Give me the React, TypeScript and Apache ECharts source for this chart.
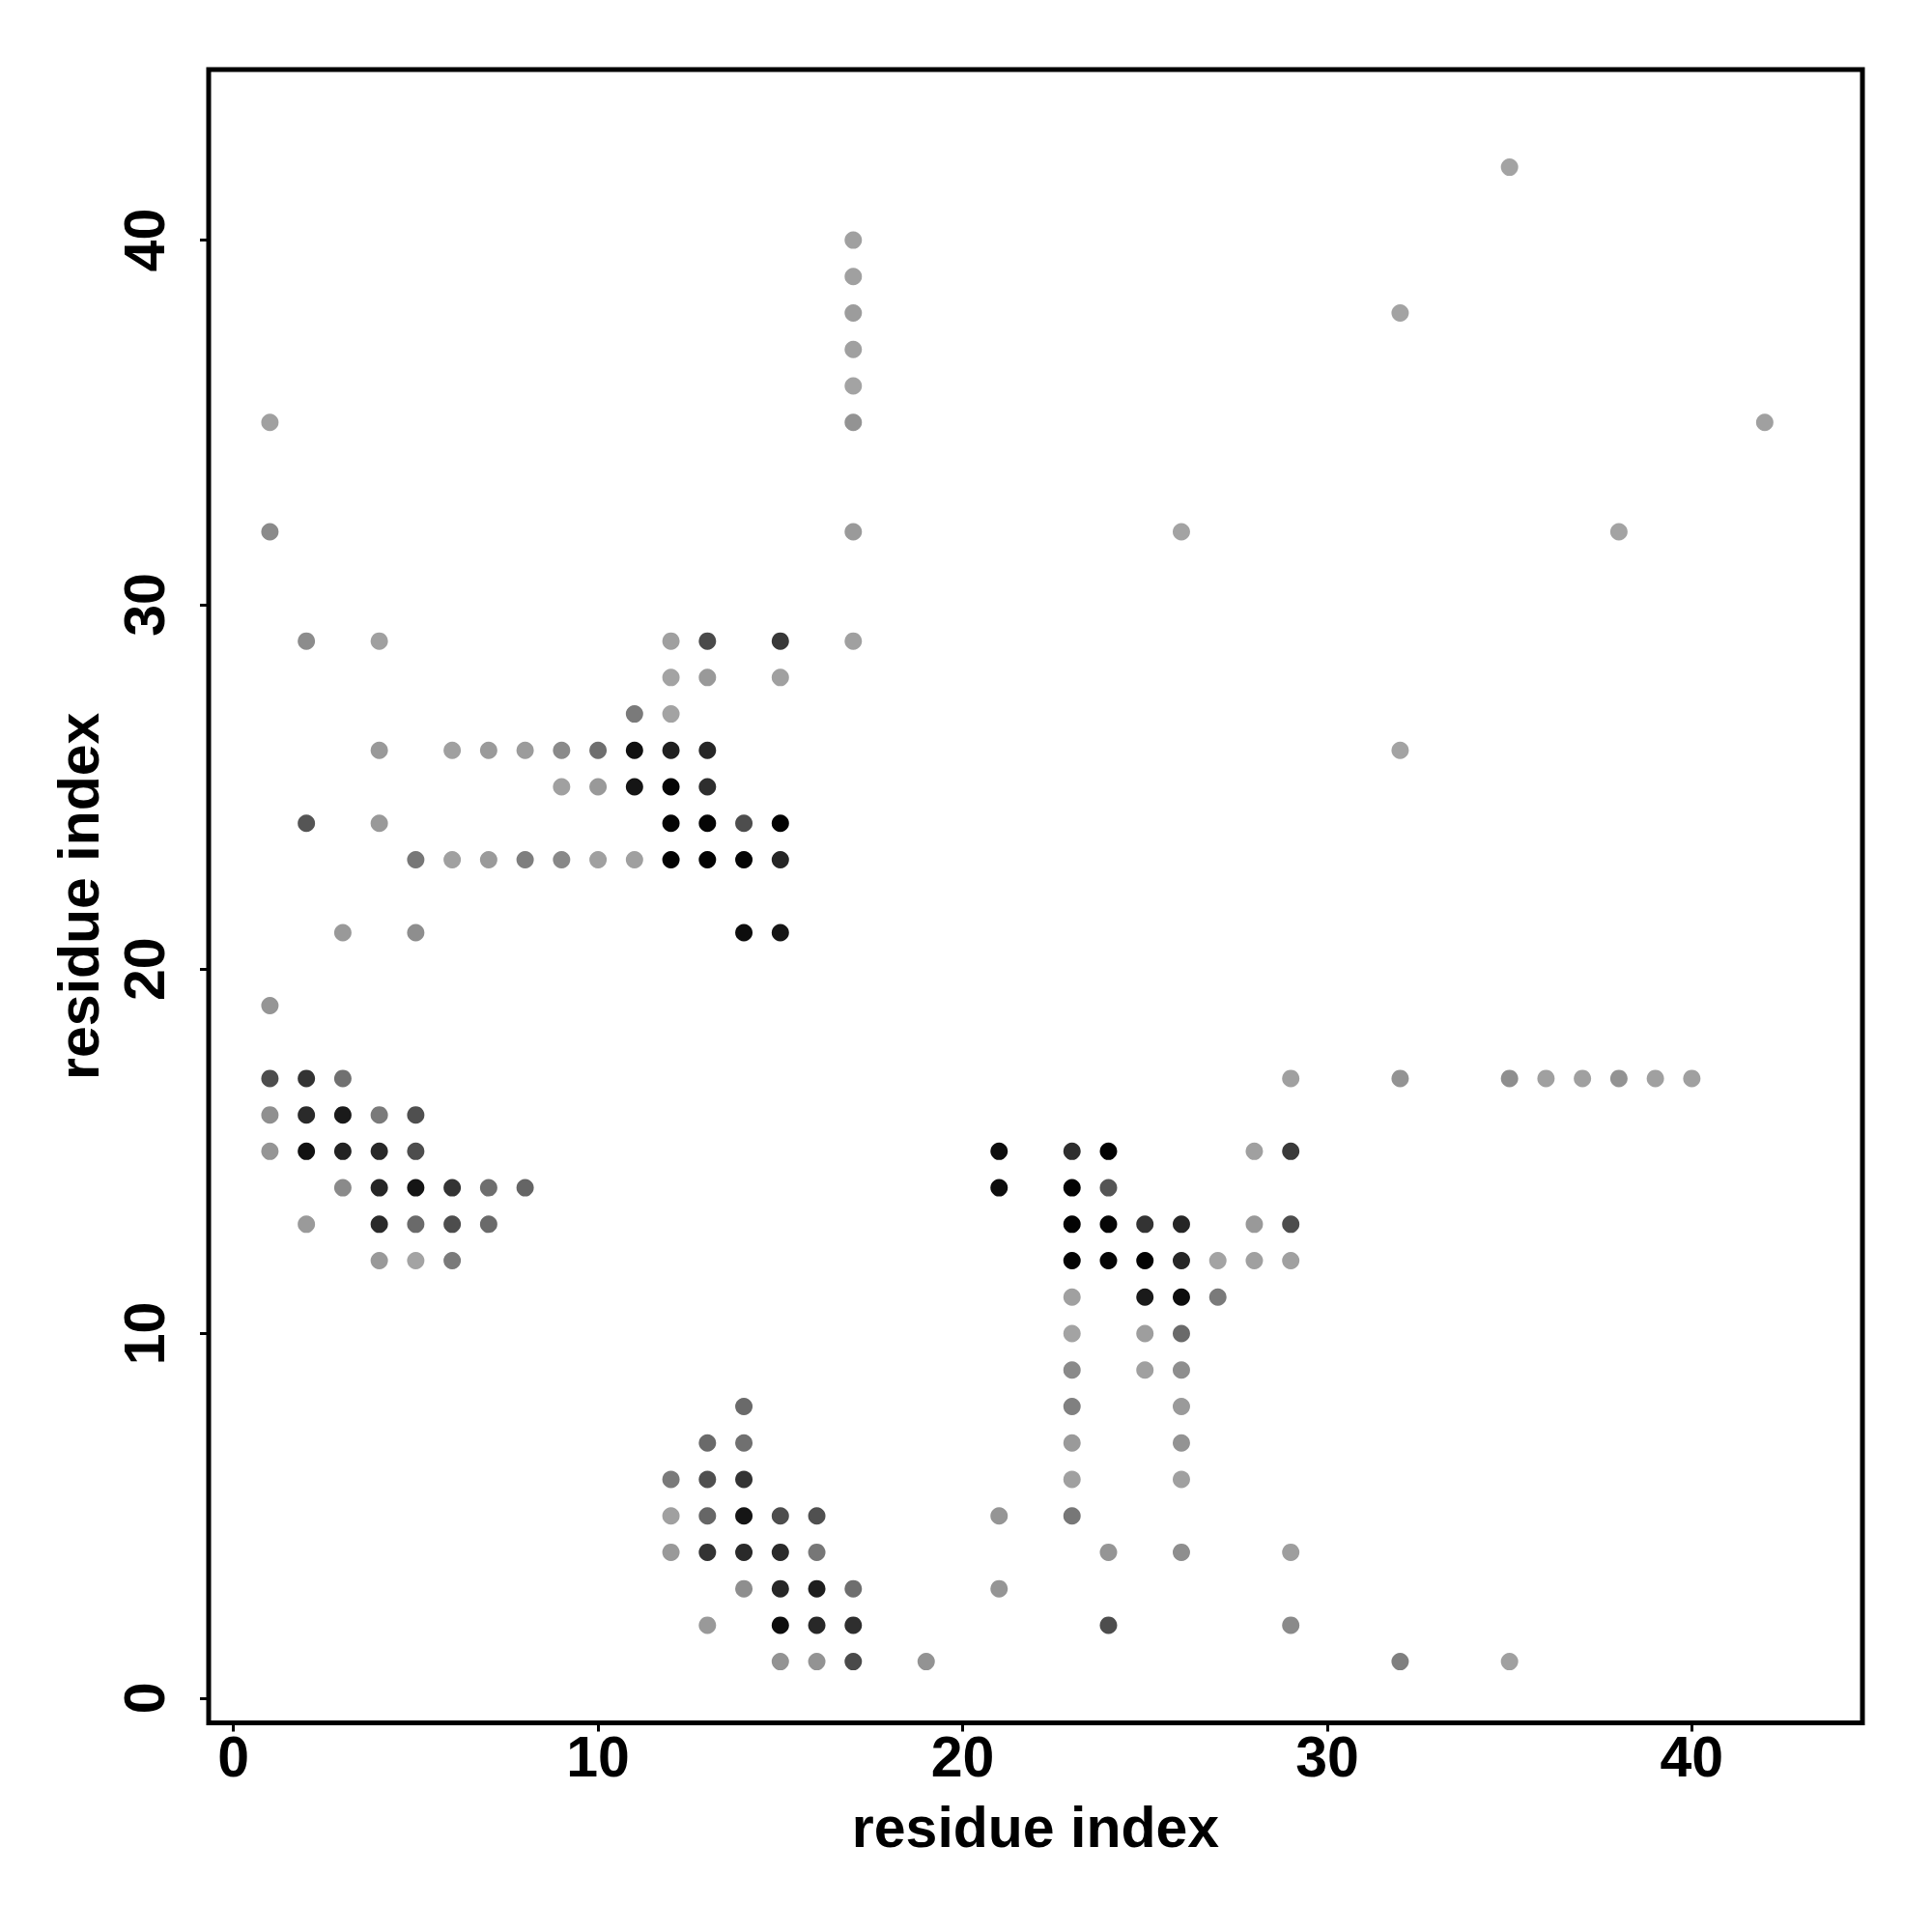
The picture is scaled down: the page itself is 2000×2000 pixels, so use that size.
import React, { useEffect, useRef } from "react";
import * as echarts from "echarts";

// residue index on the horizontal axis (one line per row of contacts, top row first)
const resI = [
  35,
  17,
  17,
  17, 32,
  17,
  17,
  1, 17, 42,
  1, 17, 26, 38,
  2, 4, 12, 13, 15, 17,
  12, 13, 15,
  11, 12,
  4, 6, 7, 8, 9, 10, 11, 12, 13, 32,
  9, 10, 11, 12, 13,
  2, 4, 12, 13, 14, 15,
  5, 6, 7, 8, 9, 10, 11, 12, 13, 14, 15,
  3, 5, 14, 15,
  1,
  1, 2, 3, 29, 32, 35, 36, 37, 38, 39, 40,
  1, 2, 3, 4, 5,
  1, 2, 3, 4, 5, 21, 23, 24, 28, 29,
  3, 4, 5, 6, 7, 8, 21, 23, 24,
  2, 4, 5, 6, 7, 23, 24, 25, 26, 28, 29,
  4, 5, 6, 23, 24, 25, 26, 27, 28, 29,
  23, 25, 26, 27,
  23, 25, 26,
  23, 25, 26,
  14, 23, 26,
  13, 14, 23, 26,
  12, 13, 14, 23, 26,
  12, 13, 14, 15, 16, 21, 23,
  12, 13, 14, 15, 16, 24, 26, 29,
  14, 15, 16, 17, 21,
  13, 15, 16, 17, 24, 29,
  15, 16, 17, 19, 32, 35,
];

// residue index on the vertical axis (same order)
const resJ = [
  42,
  40,
  39,
  38, 38,
  37,
  36,
  35, 35, 35,
  32, 32, 32, 32,
  29, 29, 29, 29, 29, 29,
  28, 28, 28,
  27, 27,
  26, 26, 26, 26, 26, 26, 26, 26, 26, 26,
  25, 25, 25, 25, 25,
  24, 24, 24, 24, 24, 24,
  23, 23, 23, 23, 23, 23, 23, 23, 23, 23, 23,
  21, 21, 21, 21,
  19,
  17, 17, 17, 17, 17, 17, 17, 17, 17, 17, 17,
  16, 16, 16, 16, 16,
  15, 15, 15, 15, 15, 15, 15, 15, 15, 15,
  14, 14, 14, 14, 14, 14, 14, 14, 14,
  13, 13, 13, 13, 13, 13, 13, 13, 13, 13, 13,
  12, 12, 12, 12, 12, 12, 12, 12, 12, 12,
  11, 11, 11, 11,
  10, 10, 10,
  9, 9, 9,
  8, 8, 8,
  7, 7, 7, 7,
  6, 6, 6, 6, 6,
  5, 5, 5, 5, 5, 5, 5,
  4, 4, 4, 4, 4, 4, 4, 4,
  3, 3, 3, 3, 3,
  2, 2, 2, 2, 2, 2,
  1, 1, 1, 1, 1, 1,
];

// grey level of each contact (0 = black, 255 = white)
const shade = [
  0xa3,
  0xa0,
  0xa0,
  0x9c, 0xa3,
  0xa0,
  0xa3,
  0xa0, 0x93, 0xa0,
  0x8a, 0x9a, 0xa3, 0xa3,
  0x8c, 0xa0, 0xa0, 0x4a, 0x38, 0xa0,
  0xa3, 0x99, 0xa0,
  0x7a, 0xa3,
  0x99, 0xa0, 0x9a, 0x9c, 0x8a, 0x6e, 0x10, 0x20, 0x26, 0xa3,
  0xa0, 0x99, 0x15, 0x05, 0x2e,
  0x55, 0x99, 0x05, 0x05, 0x4d, 0x02,
  0x77, 0xa0, 0x9a, 0x7e, 0x88, 0xa0, 0xa0, 0x03, 0x03, 0x05, 0x25,
  0x99, 0x8e, 0x0d, 0x15,
  0x95,
  0x4d, 0x33, 0x70, 0xa0, 0x93, 0x8e, 0xa0, 0xa0, 0x93, 0xa0, 0xa0,
  0x8f, 0x2a, 0x1a, 0x7a, 0x4f,
  0x95, 0x11, 0x22, 0x28, 0x4d, 0x0d, 0x2e, 0x02, 0xa0, 0x3a,
  0x8a, 0x26, 0x15, 0x33, 0x6e, 0x65, 0x0d, 0x03, 0x55,
  0x9a, 0x2a, 0x6a, 0x4d, 0x6a, 0x03, 0x05, 0x33, 0x26, 0x99, 0x4d,
  0x99, 0xa3, 0x7a, 0x03, 0x05, 0x03, 0x26, 0xa3, 0xa0, 0xa0,
  0xa0, 0x1a, 0x0d, 0x7a,
  0xa3, 0x9e, 0x6a,
  0x8a, 0xa0, 0x8e,
  0x6a, 0x80, 0x9a,
  0x6a, 0x70, 0x9a, 0x93,
  0x7a, 0x4f, 0x33, 0xa0, 0xa0,
  0xa0, 0x66, 0x15, 0x4d, 0x50, 0x95, 0x77,
  0x99, 0x33, 0x2a, 0x2a, 0x77, 0x95, 0x8e, 0x9e,
  0x8e, 0x26, 0x1e, 0x6e, 0x95,
  0x99, 0x0d, 0x28, 0x2e, 0x4d, 0x8a,
  0x93, 0x93, 0x4a, 0x93, 0x7f, 0xa0,
];

const tickValues = [0, 10, 20, 30, 40];
const axisMin = -0.68;
const axisMax = 44.68;
const axisTitle = "residue index";

export default function App() {
  const ref = useRef<HTMLDivElement>(null);

  useEffect(() => {
    document.body.style.margin = "0";
    const chart = echarts.init(ref.current!, null, { renderer: "svg" });
    const data = resI.map((x, k) => [x, resJ[k], shade[k]]);
    const font = {
      fontFamily: "'Liberation Sans', Arial, sans-serif",
      fontWeight: "bold" as const,
      fontSize: 59,
      color: "#000",
    };
    chart.setOption({
      animation: false,
      grid: {
        left: 216,
        top: 72,
        right: 72,
        bottom: 216.5,
        show: true,
        borderColor: "#000",
        borderWidth: 5,
        backgroundColor: "transparent",
      },
      xAxis: {
        type: "value",
        min: axisMin,
        max: axisMax,
        name: axisTitle,
        nameLocation: "middle",
        nameGap: 79,
        nameTextStyle: font,
        axisLine: { show: false, onZero: false },
        axisTick: {
          show: true,
          inside: false,
          length: 9,
          lineStyle: { color: "#000", width: 3 },
          customValues: tickValues,
        },
        axisLabel: {
          ...font,
          margin: 6,
          customValues: tickValues,
          formatter: (v: number) => String(v),
        },
        splitLine: { show: false },
      },
      yAxis: {
        type: "value",
        min: axisMin,
        max: axisMax,
        name: axisTitle,
        nameLocation: "middle",
        nameGap: 105,
        nameRotate: 90,
        nameTextStyle: font,
        axisLine: { show: false, onZero: false },
        axisTick: {
          show: true,
          inside: false,
          length: 9,
          lineStyle: { color: "#000", width: 3 },
          customValues: tickValues,
        },
        axisLabel: {
          ...font,
          margin: 37,
          rotate: 90,
          customValues: tickValues,
          formatter: (v: number) => String(v),
        },
        splitLine: { show: false },
      },
      series: [
        {
          type: "scatter",
          data,
          symbol: "circle",
          symbolSize: 18,
          silent: true,
          itemStyle: {
            opacity: 1,
            color: (p: any) => {
              const s = p.data[2];
              return `rgb(${s},${s},${s})`;
            },
          },
        },
      ],
    });
    return () => chart.dispose();
  }, []);

  return <div ref={ref} style={{ width: 2000, height: 2000 }} />;
}
